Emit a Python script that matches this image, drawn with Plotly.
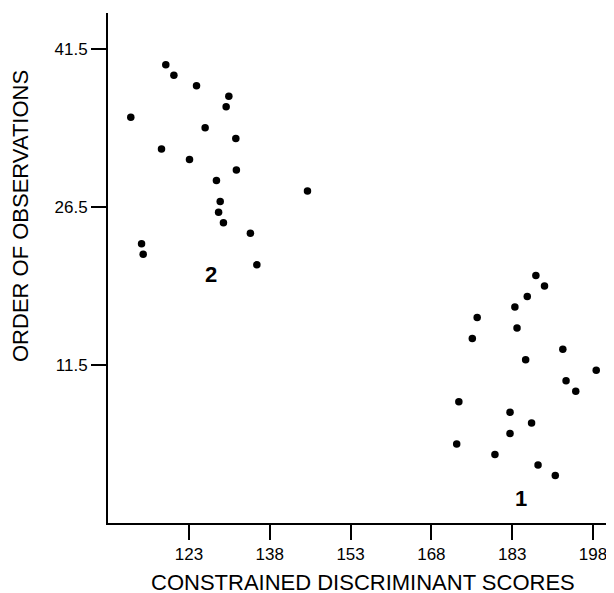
import plotly.graph_objects as go

# Group 1 (observations 1-20) and group 2 (observations 21-40)
order_g1 = list(range(1, 21))
scores_g1 = [191.0, 187.8, 179.8, 172.7, 182.6, 186.6, 182.6, 173.1, 194.8, 193.0,
             198.6, 185.5, 192.4, 175.6, 183.9, 176.5, 183.5, 185.8, 189.0, 187.4]
order_g2 = list(range(21, 41))
scores_g2 = [135.6, 114.5, 114.2, 134.4, 129.4, 128.5, 128.8, 145.0, 128.1, 131.8,
             123.1, 117.9, 131.7, 126.0, 112.2, 129.9, 130.4, 124.4, 120.2, 118.7]

x_ticks = [123, 138, 153, 168, 183, 198]
y_ticks = [11.5, 26.5, 41.5]
group_labels = ["1", "2"]
label_x = [184.7, 127.1]
label_y = [-1.2, 20.05]
x_title = "CONSTRAINED DISCRIMINANT SCORES"
y_title = "ORDER OF OBSERVATIONS"

FONT = "Liberation Sans, Arial, Helvetica, sans-serif"
OFF = 8  # page body margin
W, H = 614 - OFF, 593 - OFF
L, R, T = 108 - OFF, 0, 13 - OFF
B = H - (523 - OFF)
PW, PH = W - L - R, H - T - B

fig = go.Figure()
fig.add_trace(go.Scatter(x=scores_g1, y=order_g1, mode="markers",
                         marker=dict(color="black", size=7.5), showlegend=False))
fig.add_trace(go.Scatter(x=scores_g2, y=order_g2, mode="markers",
                         marker=dict(color="black", size=7.5), showlegend=False))

for t, xx, yy in zip(group_labels, label_x, label_y):
    fig.add_annotation(x=xx, y=yy, text="<b>%s</b>" % t, showarrow=False,
                       font=dict(family=FONT, size=22, color="black"))

# axis titles placed as paper annotations (page coords minus body offset)
fig.add_annotation(x=(362.5 - OFF - L) / PW, y=0, xref="paper", yref="paper",
                   yanchor="middle", yshift=-(582 - 523), text=x_title,
                   showarrow=False, font=dict(family=FONT, size=22, color="black"))
fig.add_annotation(x=0, y=(523 - 216) / PH, xref="paper", yref="paper",
                   xanchor="center", xshift=-(108 - 20), text=y_title, textangle=-90,
                   showarrow=False, font=dict(family=FONT, size=22, color="black"))

fig.update_layout(
    width=W, height=H,
    margin=dict(l=L, r=R, t=T, b=B, autoexpand=False),
    paper_bgcolor="white", plot_bgcolor="white",
    font=dict(family=FONT, color="black"),
    xaxis=dict(range=[107.97, 201.9], tickvals=x_ticks, ticktext=[str(v) for v in x_ticks],
               showgrid=False, zeroline=False, showline=True, linecolor="black", linewidth=2,
               ticks="outside", ticklen=15, tickwidth=2, tickcolor="black",
               tickfont=dict(size=17), automargin=False),
    yaxis=dict(range=[-3.5, 44.9], tickvals=y_ticks, ticktext=[str(v) for v in y_ticks],
               showgrid=False, zeroline=False, showline=True, linecolor="black", linewidth=2,
               ticks="outside", ticklen=15, tickwidth=2, tickcolor="black",
               tickfont=dict(size=17), automargin=False),
)

fig.write_html("out.html")
